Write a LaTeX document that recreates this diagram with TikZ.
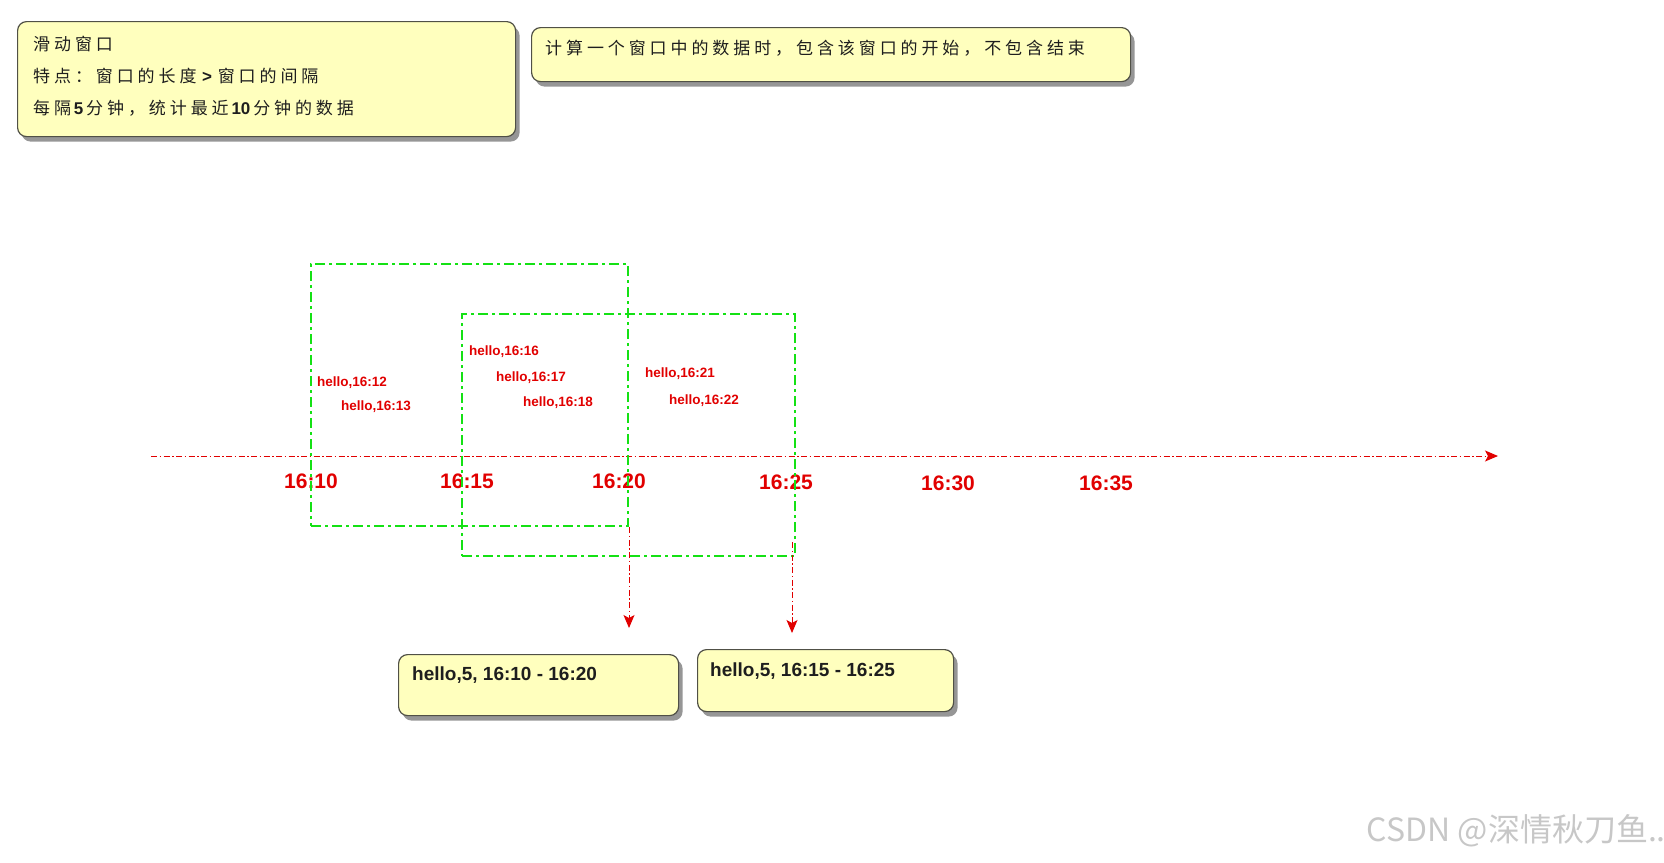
\documentclass[tikz,border=0pt]{standalone}
\usepackage{fontspec}
\setmainfont{Liberation Sans}
\newfontfamily\cjk[LetterSpace=23]{Noto Sans CJK SC}
\newfontfamily\wmfont{Noto Sans CJK SC}
\usetikzlibrary{shadows,arrows.meta}
\definecolor{boxfill}{RGB}{255,255,190}
\definecolor{boxline}{RGB}{80,80,70}
\definecolor{winline}{RGB}{20,225,20}
\definecolor{redtxt}{RGB}{225,0,0}
\definecolor{darktxt}{RGB}{30,30,30}
\tikzset{
  ybox/.style={draw=boxline, line width=1.2pt, fill=boxfill, rounded corners=9pt,
    anchor=north west, inner sep=0pt,
    drop shadow={shadow xshift=4pt, shadow yshift=-5pt, fill=black!75, opacity=0.55}},
  wbox/.style={draw=winline, line width=2.4pt, anchor=north west, inner sep=0pt,
    dash pattern=on 10pt off 4pt on 3pt off 4pt},
  cjktext/.style={anchor=west, inner sep=0pt, text=darktxt, font=\cjk\fontsize{17}{19}\selectfont},
  restext/.style={anchor=west, inner sep=0pt, text=darktxt, font=\bfseries\fontsize{19}{22}\selectfont},
  hello/.style={inner sep=0pt, text=redtxt, font=\bfseries\fontsize{13.5}{15}\selectfont},
  tlabel/.style={inner sep=0pt, text=redtxt, font=\bfseries\fontsize{21}{24}\selectfont},
  redline/.style={draw=redtxt, line width=1pt, dash pattern=on 6pt off 2.5pt on 1.5pt off 2.5pt,
    -{Stealth[length=13pt,width=11pt,inset=3pt]}},
}
\begin{document}
\begin{tikzpicture}[x=1pt,y=-1pt]
\useasboundingbox (0,0) rectangle (1664,862);
% top-left info box
\node[ybox, minimum width=498pt, minimum height=115pt] (b1) at (17,21) {};
\node[cjktext] (b1l1) at (33,44) {滑动窗口};
\node[cjktext] (b1l2) at (33,76) {特点：窗口的长度\,{\normalfont\bfseries\fontsize{17}{19}\selectfont\,>\,}\,窗口的间隔};
\node[cjktext] (b1l3) at (33,108) {每隔{\normalfont\bfseries\fontsize{17}{19}\selectfont\,5\,}分钟，统计最近{\normalfont\bfseries\fontsize{17}{19}\selectfont\,10\,}分钟的数据};
% top-right info box
\node[ybox, minimum width=599pt, minimum height=54pt] (b2) at (531,27) {};
\node[cjktext] (b2l1) at (545,48) {计算一个窗口中的数据时，包含该窗口的开始，不包含结束};
% time axis
\coordinate (axs) at (151,456);
\coordinate (axe) at (1498,456);
\draw[redline] (axs) -- (axe);
\node[tlabel] (t10) at (311,481) {16:10};
\node[tlabel] (t15) at (467,481) {16:15};
\node[tlabel] (t20) at (619,481) {16:20};
\node[tlabel] (t25) at (786,482) {16:25};
\node[tlabel] (t30) at (948,483) {16:30};
\node[tlabel] (t35) at (1106,483) {16:35};
% data points
\node[hello] (h12) at (352,383) {hello,16:12};
\node[hello] (h13) at (376,407) {hello,16:13};
\node[hello] (h16) at (504,352) {hello,16:16};
\node[hello] (h17) at (531,378) {hello,16:17};
\node[hello] (h18) at (558,403) {hello,16:18};
\node[hello] (h21) at (680,374) {hello,16:21};
\node[hello] (h22) at (704,401) {hello,16:22};
% windows
\node[wbox, minimum width=317pt, minimum height=262pt] (g1) at (310,263) {};
\node[wbox, minimum width=333pt, minimum height=242pt] (g2) at (461,313) {};
% result boxes
\node[ybox, minimum width=280pt, minimum height=61pt] (b3) at (398,654) {};
\node[restext] (b3t) at (412,675) {hello,5, 16:10 - 16:20};
\node[ybox, minimum width=256pt, minimum height=62pt] (b4) at (697,649) {};
\node[restext] (b4t) at (710,671) {hello,5, 16:15 - 16:25};
% arrows to results
\coordinate (a1e) at (629,628);
\coordinate (a2e) at (792,633);
\draw[redline] (g1.south east -| a1e) -- (a1e);
\draw[redline] ([yshift=15pt]g2.south east -| a2e) -- (a2e);
% watermark
\node[anchor=east, inner sep=0pt, text=black!22, font=\wmfont\fontsize{32}{35}\selectfont] (wm) at (1666,831) {CSDN @深情秋刀鱼..};
\end{tikzpicture}
\end{document}
